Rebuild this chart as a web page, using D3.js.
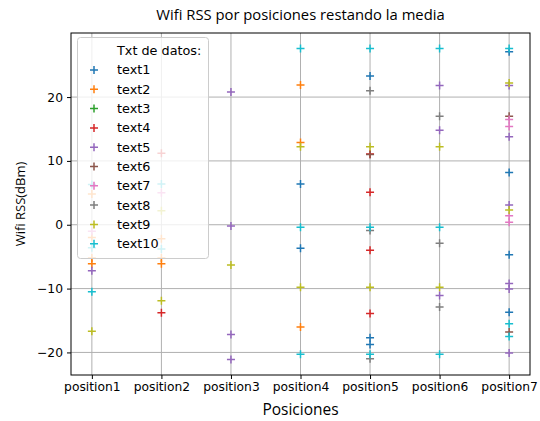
<!DOCTYPE html>
<html>
<head>
<meta charset="utf-8">
<script src="https://cdn.jsdelivr.net/npm/d3@7"></script>
<style>
  body { margin: 0; background: #fff; }
  text { font-family: "DejaVu Sans", sans-serif; }
</style>
</head>
<body>
<svg></svg>
<script>
// data: [position index, value]
const positions = ["position1", "position2", "position3", "position4", "position5", "position6", "position7"];
const seriesNames = ["text1", "text2", "text3", "text4", "text5", "text6", "text7", "text8", "text9", "text10"];
const yTicks = [-20, -10, 0, 10, 20];

const text1 = [[3, 6.4], [3, -3.7], [4, 23.3], [4, -17.7], [4, -18.75], [6, 27.1], [6, 8.2], [6, -4.7], [6, -13.7]];
const text2 = [[0, -5.2], [0, -6.1], [0, 4.8], [0, -2.0], [1, -5.2], [1, -6.1], [1, -2.2], [3, 21.9], [3, 12.9], [3, -16.0]];
const text3 = [];
const text4 = [[1, -13.8], [1, 11.2], [4, 11.1], [4, 5.1], [4, -4.0], [4, -13.9]];
const text5 = [[0, -7.2], [2, 20.8], [2, -0.2], [2, -17.2], [2, -21.1], [5, 21.8], [5, 14.8], [5, -11.1],
               [6, 21.8], [6, 13.8], [6, 3.1], [6, -9.2], [6, -10.05], [6, -20.1]];
const text6 = [[4, 11.0], [6, 17.0], [6, -16.8]];
const text7 = [[0, -1.0], [1, 5.0], [6, 16.5], [6, 15.4], [6, 1.4], [6, 0.4]];
const text8 = [[4, 21.0], [4, -0.9], [4, -21.0], [5, 17.0], [5, -2.9], [5, -12.9]];
const text9 = [[0, -16.7], [1, -11.9], [1, 2.2], [2, -6.3], [3, 12.2], [3, -9.8], [4, 12.2], [4, -9.8],
               [5, 12.2], [5, -9.8], [6, 22.2], [6, 2.3]];
const text10 = [[0, -10.5], [0, 6.3], [0, -3.6], [1, 6.4], [1, -3.8], [3, 27.6], [3, -0.4], [3, -20.3],
                [4, 27.6], [4, -0.4], [4, -20.3], [5, 27.6], [5, -0.4], [5, -20.3], [6, 27.6], [6, -15.5], [6, -17.5]];

const seriesData = [text1, text2, text3, text4, text5, text6, text7, text8, text9, text10];
const colors = d3.schemeCategory10;

const width = 540;
const height = 421;
const margin = {top: 33, right: 10, bottom: 46, left: 71};

const svg = d3.select("svg")
              .attr("width", width)
              .attr("height", height);

const xScale = d3.scalePoint()
                  .domain(positions)
                  .range([margin.left, width - margin.right])
                  .padding(0.3);

const allValues = seriesData.flat().map(d => d[1]);
const ext = d3.extent(allValues);
const pad = (ext[1] - ext[0]) * 0.05;

const yScale = d3.scaleLinear()
                  .domain([ext[0] - pad, ext[1] + pad])
                  .range([height - margin.bottom, margin.top]);

// grid
svg.append("g")
  .selectAll("line")
  .data(positions)
  .enter()
  .append("line")
    .attr("x1", d => xScale(d))
    .attr("x2", d => xScale(d))
    .attr("y1", margin.top)
    .attr("y2", height - margin.bottom)
    .attr("stroke", "#b0b0b0")
    .attr("stroke-width", 1);

svg.append("g")
  .selectAll("line")
  .data(yTicks)
  .enter()
  .append("line")
    .attr("x1", margin.left)
    .attr("x2", width - margin.right)
    .attr("y1", d => yScale(d))
    .attr("y2", d => yScale(d))
    .attr("stroke", "#b0b0b0")
    .attr("stroke-width", 1);

// axes
const xAxis = d3.axisBottom(xScale).tickSize(4).tickSizeOuter(0).tickPadding(3);
const yAxis = d3.axisLeft(yScale).tickValues(yTicks).tickSize(4).tickSizeOuter(0).tickPadding(4);

const gx = svg.append("g")
  .attr("transform", `translate(0, ${height - margin.bottom})`)
  .call(xAxis);
const gy = svg.append("g")
  .attr("transform", `translate(${margin.left}, 0)`)
  .call(yAxis);

[gx, gy].forEach(g => {
  g.select(".domain").remove();
  g.selectAll("text").attr("font-size", 12.3).attr("fill", "#000").style("font-family", "DejaVu Sans");
  g.selectAll("line").attr("stroke", "#000");
});

// markers
const plusPath = "M-4,0H4M0,-4V4";

seriesData.forEach((series, i) => {
  svg.append("g")
    .selectAll("path")
    .data(series)
    .enter()
    .append("path")
      .attr("transform", d => `translate(${xScale(positions[d[0]])}, ${yScale(d[1])})`)
      .attr("d", plusPath)
      .attr("stroke", colors[i])
      .attr("stroke-width", 1.5)
      .attr("fill", "none");
});

// frame
svg.append("rect")
  .attr("x", margin.left)
  .attr("y", margin.top)
  .attr("width", width - margin.left - margin.right)
  .attr("height", height - margin.top - margin.bottom)
  .attr("fill", "none")
  .attr("stroke", "#000")
  .attr("stroke-width", 1);

// legend
const legend = svg.append("g");
legend.append("rect")
  .attr("x", 77.5)
  .attr("y", 37.5)
  .attr("width", 131)
  .attr("height", 221)
  .attr("rx", 3)
  .attr("fill", "#fff")
  .attr("fill-opacity", 0.8)
  .attr("stroke", "#cccccc");

legend.append("text")
  .attr("x", 117)
  .attr("y", 55)
  .attr("font-size", 12.8)
  .text("Txt de datos:");

const rowY = i => 70 + i * 19.3;

legend.selectAll("path.key")
  .data(seriesNames)
  .enter()
  .append("path")
    .attr("class", "key")
    .attr("transform", (d, i) => `translate(94, ${rowY(i)})`)
    .attr("d", plusPath)
    .attr("stroke", (d, i) => colors[i])
    .attr("stroke-width", 1.5);

legend.selectAll("text.key")
  .data(seriesNames)
  .enter()
  .append("text")
    .attr("class", "key")
    .attr("x", 117)
    .attr("y", (d, i) => rowY(i))
    .attr("dy", "0.35em")
    .attr("font-size", 12.8)
    .text(d => d);

// titles
svg.append("text")
  .attr("x", (margin.left + width - margin.right) / 2)
  .attr("y", 20)
  .style("text-anchor", "middle")
  .style("font-family", "Open Sans")
  .attr("font-size", 14.8)
  .text("Wifi RSS por posiciones restando la media");

svg.append("text")
  .attr("x", (margin.left + width - margin.right) / 2)
  .attr("y", 415)
  .style("text-anchor", "middle")
  .style("font-family", "Open Sans")
  .attr("font-size", 15.5)
  .text("Posiciones");

svg.append("text")
  .attr("transform", "rotate(-90)")
  .attr("x", -(margin.top + height - margin.bottom) / 2)
  .attr("y", 25)
  .style("text-anchor", "middle")
  .style("font-family", "Open Sans")
  .attr("font-size", 13)
  .text("Wifi RSS(dBm)");
</script>
</body>
</html>
